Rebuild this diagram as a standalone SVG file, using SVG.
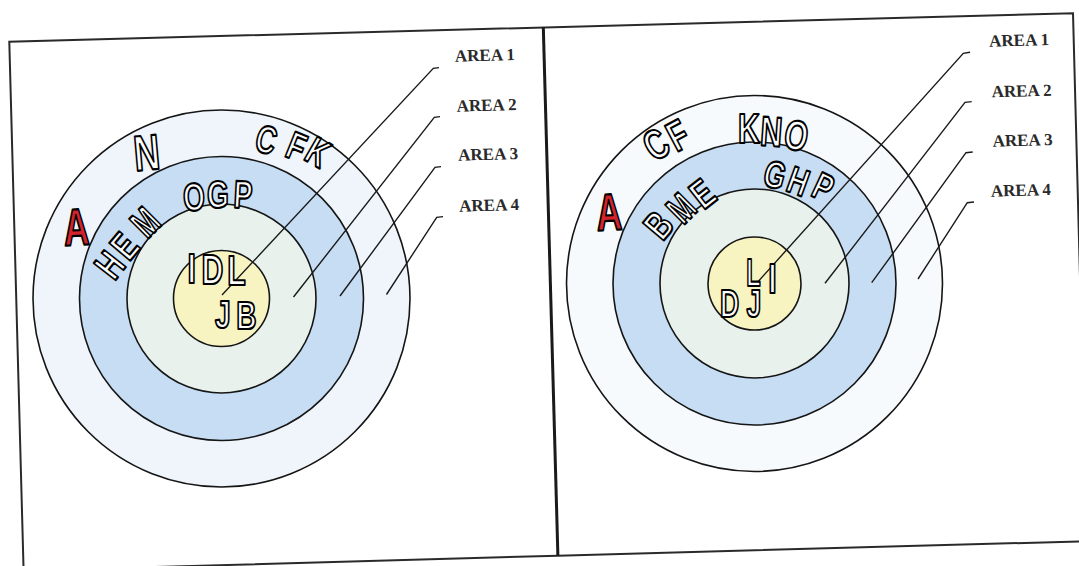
<svg xmlns="http://www.w3.org/2000/svg" width="1079" height="566" viewBox="0 0 1079 566">
<style>
.frame{fill:none;stroke:#2a2a2a;stroke-width:2}
.div{fill:none;stroke:#1a1a1a;stroke-width:3}
.ring{stroke:#151515;stroke-width:1.6}
.lead{fill:none;stroke:#1a1a1a;stroke-width:1.4}
.area{font-family:"Liberation Serif",serif;font-weight:bold;font-size:17px;fill:#2a2a2a}
.lt{font-family:"Liberation Sans",Arial,sans-serif;font-weight:bold;fill:#fff;stroke:#000;stroke-width:2.2;stroke-linejoin:round;text-anchor:middle}
.red{fill:#d3242c}
</style>
<rect width="1079" height="566" fill="#fff"/>
<g id="frame">
<polyline class="frame" points="23.6,570.7 9.3,41.7 1073,13.3 1087,541.6"/>
<polyline class="frame" points="23.6,570.7 557.9,555.7 1087,541.2"/>
<line class="div" x1="543.3" y1="27" x2="557.9" y2="556"/>
</g>
<g id="left-panel">
<circle class="ring" cx="221.5" cy="298.5" r="188.5" fill="#eff5fb"/>
<circle class="ring" cx="221.5" cy="298.5" r="142" fill="#c6ddf3"/>
<circle class="ring" cx="221.5" cy="298.5" r="94.5" fill="#e8f1eb"/>
<circle class="ring" cx="221.5" cy="298.5" r="48" fill="#f8f4c2"/>
</g>
<g id="right-panel">
<circle class="ring" cx="754.5" cy="283.5" r="188" fill="#f7fafd"/>
<circle class="ring" cx="754.5" cy="283.5" r="141.5" fill="#c6ddf3"/>
<circle class="ring" cx="754.5" cy="283.5" r="94.5" fill="#e8f1eb"/>
<circle class="ring" cx="754.5" cy="283.5" r="46.5" fill="#f8f4c2"/>
</g>
<g id="connectors">
<path class="lead" d="M222,295 L433.3,68.3 L439,67.6"/>
<path class="lead" d="M293.5,297 L434.3,117.3 L440,116.6"/>
<path class="lead" d="M340,296 L435,167.3 L441,166.6"/>
<path class="lead" d="M386.5,294.5 L436.7,217.3 L443,216.6"/>
<path class="lead" d="M755.7,284.3 L963.3,53.3 L970,52.3"/>
<path class="lead" d="M825,283.3 L965,102.3 L971.7,101.6"/>
<path class="lead" d="M871.7,282.7 L966,152.7 L972.7,152"/>
<path class="lead" d="M918,279 L967.3,202.7 L974,202"/>
</g>
<g id="left-labels">
<text class="area" x="455" y="61.7" transform="rotate(-1.55 455 61.7)">AREA 1</text>
<text class="area" x="456.7" y="111.7" transform="rotate(-1.55 456.7 111.7)">AREA 2</text>
<text class="area" x="458.3" y="160.7" transform="rotate(-1.55 458.3 160.7)">AREA 3</text>
<text class="area" x="459.3" y="211.7" transform="rotate(-1.55 459.3 211.7)">AREA 4</text>
</g>
<g id="right-labels">
<text class="area" x="989.3" y="46.7" transform="rotate(-1.55 989.3 46.7)">AREA 1</text>
<text class="area" x="991.7" y="97.3" transform="rotate(-1.55 991.7 97.3)">AREA 2</text>
<text class="area" x="992.7" y="146.7" transform="rotate(-1.55 992.7 146.7)">AREA 3</text>
<text class="area" x="991" y="196.7" transform="rotate(-1.55 991 196.7)">AREA 4</text>
</g>
<g id="left-letters">
<text class="lt" font-size="50" y="18" transform="translate(146.5,152) rotate(-5) scale(0.72,1)">N</text>
<text class="lt" font-size="39" y="14" transform="translate(266.5,139) rotate(15) scale(0.72,1)">C</text>
<text class="lt" font-size="39" y="14" transform="translate(296.7,146) rotate(22) scale(0.72,1)">F</text>
<text class="lt" font-size="39" y="14" transform="translate(318.3,151.7) rotate(30) scale(0.72,1)">K</text>
<text class="lt red" font-size="52" y="18.5" transform="translate(76.3,226.7) rotate(-3) scale(0.68,1)">A</text>
<text class="lt" font-size="39" y="14" transform="translate(194,196.5) rotate(-3) scale(0.72,1)">O</text>
<text class="lt" font-size="39" y="14" transform="translate(218,194) scale(0.72,1)">G</text>
<text class="lt" font-size="39" y="14" transform="translate(243,194) rotate(3) scale(0.72,1)">P</text>
<text class="lt" font-size="40" y="14" transform="translate(109.5,265) rotate(-52) scale(0.72,1)">H</text>
<text class="lt" font-size="40" y="14" transform="translate(124.5,246) rotate(-50) scale(0.72,1)">E</text>
<text class="lt" font-size="40" y="14" transform="translate(145,222) rotate(-45) scale(0.66,1)">M</text>
<text class="lt" font-size="42" y="15" transform="translate(191.7,268) scale(0.72,1)">I</text>
<text class="lt" font-size="42" y="15" transform="translate(212.5,269) scale(0.72,1)">D</text>
<text class="lt" font-size="42" y="15" transform="translate(236.5,270) scale(0.72,1)">L</text>
<text class="lt" font-size="39" y="14" transform="translate(222.8,313.5) scale(0.72,1)">J</text>
<text class="lt" font-size="39" y="14" transform="translate(246.3,314.5) scale(0.72,1)">B</text>
</g>
<g id="right-letters">
<text class="lt" font-size="42" y="15" transform="translate(655.8,144) rotate(-32) scale(0.72,1)">C</text>
<text class="lt" font-size="42" y="15" transform="translate(677.5,135) rotate(-28) scale(0.72,1)">F</text>
<text class="lt" font-size="42" y="15" transform="translate(749,128) scale(0.72,1)">K</text>
<text class="lt" font-size="42" y="15" transform="translate(771.5,131) rotate(4) scale(0.72,1)">N</text>
<text class="lt" font-size="42" y="15" transform="translate(796.5,135) rotate(10) scale(0.72,1)">O</text>
<text class="lt red" font-size="52" y="18.5" transform="translate(609,211.5) rotate(-3) scale(0.68,1)">A</text>
<text class="lt" font-size="38" y="13.5" transform="translate(775,174.5) rotate(15) scale(0.72,1)">G</text>
<text class="lt" font-size="38" y="13.5" transform="translate(798.5,181) rotate(20) scale(0.72,1)">H</text>
<text class="lt" font-size="38" y="13.5" transform="translate(823.5,186.5) rotate(25) scale(0.72,1)">P</text>
<text class="lt" font-size="40" y="14" transform="translate(658.5,225) rotate(-50) scale(0.72,1)">B</text>
<text class="lt" font-size="40" y="14" transform="translate(681,208) rotate(-45) scale(0.66,1)">M</text>
<text class="lt" font-size="40" y="14" transform="translate(702.5,193.5) rotate(-38) scale(0.72,1)">E</text>
<text class="lt" font-size="38" y="13.5" transform="translate(753.5,272) scale(0.62,1)">L</text>
<text class="lt" font-size="42" y="15" transform="translate(772.5,277.5) scale(0.72,1)">I</text>
<text class="lt" font-size="38" y="13.5" transform="translate(729.5,303.5) scale(0.7,1)">D</text>
<text class="lt" font-size="38" y="13.5" transform="translate(754,303.5) scale(0.7,1)">J</text>
</g>
</svg>
